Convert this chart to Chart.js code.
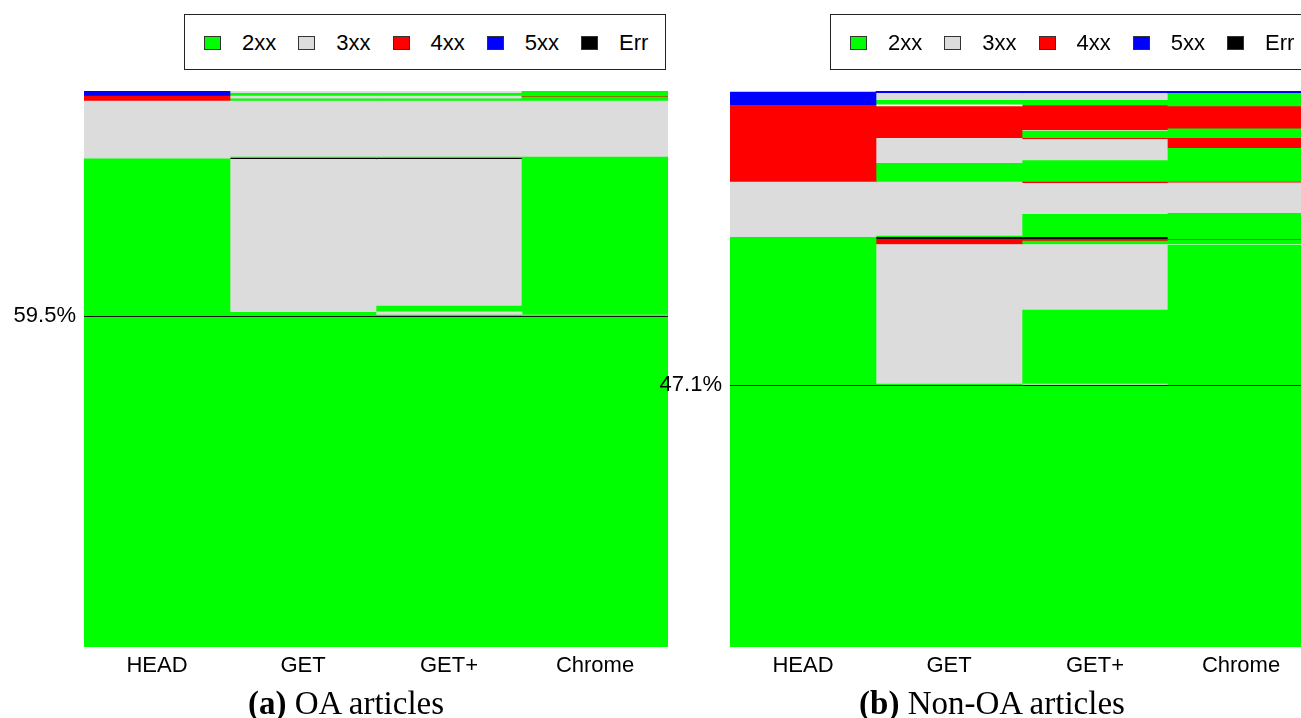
<!DOCTYPE html>
<html>
<head>
<meta charset="utf-8">
<script src="https://cdn.jsdelivr.net/npm/chart.js@4.4.1/dist/chart.umd.min.js"></script>
<style>
  html, body { margin:0; padding:0; background:#fff; }
  body { width:1301px; height:718px; overflow:hidden; position:relative; }
  canvas { position:absolute; top:0; }
  #cA { left:0; }
  #cB { left:646px; }
  .legend { position:absolute; top:14px; width:482px; height:56px; border:1px solid #222; box-sizing:border-box; background:#fff; }
  .item { position:absolute; top:21px; }
  .sq { position:absolute; left:0; top:0; width:17px; height:14px; border:1px solid #333; box-sizing:border-box; }
  .lbl { position:absolute; left:38px; top:-4px; font-family:"Liberation Sans", Arial, sans-serif; font-size:22px; line-height:22px; color:#000; white-space:nowrap; }
  .cap { position:absolute; top:687px; font-family:"Liberation Serif", serif; font-size:33px; line-height:33px; color:#000; white-space:nowrap; transform:translateX(-50%); }
</style>
</head>
<body>
<canvas id="cA" width="680" height="718"></canvas>
<canvas id="cB" width="680" height="718"></canvas>
<div class="legend" id="legA" style="left:184px"></div>
<div class="legend" id="legB" style="left:830px"></div>
<div class="cap" style="left:346px"><b>(a)</b> OA articles</div>
<div class="cap" style="left:992px"><b>(b)</b> Non-OA articles</div>
<script>
// ---- data ----
const categories = ['HEAD', 'GET', 'GET+', 'Chrome'];
const legendCodes = ['2xx', '3xx', '4xx', '5xx', 'Err'];

// (a) OA articles: segments bottom -> top, percent of requests
const oaHeadCodes    = ['2xx', '3xx', '4xx', '5xx'];
const oaHeadValues   = [87.8, 10.4, 0.9, 0.9];
const oaGetCodes     = ['2xx', '3xx', 'Err', '2xx', '3xx', '2xx', '3xx', '2xx', '3xx'];
const oaGetValues    = [60.2, 27.5, 0.2, 0.2, 10.1, 0.4, 0.5, 0.5, 0.4];
const oaGetPCodes    = ['2xx', '3xx', '2xx', '3xx', 'Err', '2xx', '3xx', '2xx', '3xx', '2xx', '3xx'];
const oaGetPValues   = [59.7, 0.6, 1.0, 26.4, 0.2, 0.2, 10.1, 0.4, 0.5, 0.5, 0.4];
const oaChromeCodes  = ['2xx', '3xx', '2xx', '3xx', '2xx', '4xx', '2xx'];
const oaChromeValues = [59.6, 0.1, 28.4, 10.1, 0.7, 0.1, 1.0];
const oaTick = 59.5;

// (b) Non-OA articles
const nonHeadCodes    = ['2xx', '3xx', '4xx', '5xx'];
const nonHeadValues   = [73.7, 9.9, 13.8, 2.4];
const nonGetCodes     = ['2xx', '3xx', '4xx', 'Err', '2xx', '3xx', '2xx', '3xx', '4xx', 'gap', '2xx', '3xx', '5xx'];
const nonGetValues    = [47.3, 25.1, 0.9, 0.4, 0.2, 9.7, 3.4, 4.5, 5.7, 0.3, 0.8, 1.3, 0.4];
const nonGetPCodes    = ['2xx', '3xx', '2xx', '3xx', '2xx', '4xx', 'Err', '2xx', '3xx', '4xx', '2xx', '3xx', '4xx', '2xx', 'gap', '4xx', '2xx', '3xx', '5xx'];
const nonGetPValues   = [47.1, 0.2, 13.3, 11.8, 0.6, 0.3, 0.4, 4.1, 5.6, 0.2, 3.9, 3.8, 0.2, 1.3, 0.1, 4.5, 0.9, 1.3, 0.4];
const nonChromeCodes  = ['2xx', 'gap', '2xx', '4xx', '2xx', '3xx', '4xx', '2xx', '4xx', '2xx', '4xx', '2xx', '5xx'];
const nonChromeValues = [72.3, 0.1, 0.8, 0.1, 4.7, 5.5, 0.1, 6.1, 1.8, 1.7, 4.0, 2.4, 0.4];
const nonOaTick = 47.1;

// ---- styles ----
const codeColors = { '2xx':'#00ff00', '3xx':'#dcdcdc', '4xx':'#ff0000', '5xx':'#0000ff', 'Err':'#000000', 'gap':'#ffffff' };
const FONT = 'Liberation Sans, Arial, sans-serif';

function buildLegend(id) {
  const el = document.getElementById(id);
  legendCodes.forEach((c, i) => {
    const it = document.createElement('div');
    it.className = 'item';
    it.style.left = (19 + i * 94.25) + 'px';
    it.innerHTML = '<div class="sq" style="background:' + codeColors[c] + '"></div><div class="lbl">' + c + '</div>';
    el.appendChild(it);
  });
}
buildLegend('legA');
buildLegend('legB');

function makePanel(canvasId, barCodes, barValues, tickValue) {
  const maxLen = Math.max(...barCodes.map(a => a.length));
  const datasets = [];
  for (let k = 0; k < maxLen; k++) {
    datasets.push({
      data: barValues.map(v => (k < v.length ? v[k] : null)),
      backgroundColor: barCodes.map(c => (k < c.length ? codeColors[c[k]] : 'rgba(0,0,0,0)')),
      borderWidth: 0,
      barPercentage: 1,
      categoryPercentage: 1
    });
  }
  new Chart(document.getElementById(canvasId), {
    type: 'bar',
    data: { labels: categories, datasets },
    options: {
      responsive: false,
      animation: false,
      devicePixelRatio: 1,
      layout: { padding: { top: 91, right: 12, left: 0, bottom: 0 } },
      plugins: { legend: { display: false }, tooltip: { enabled: false } },
      scales: {
        x: {
          stacked: true,
          grid: { display: false },
          border: { display: false },
          ticks: { color: '#000', font: { family: FONT, size: 22 }, padding: -2, maxRotation: 0 },
          afterFit(s) { s.height = 71; }
        },
        y: {
          stacked: true,
          min: 0, max: 100,
          afterBuildTicks(s) { s.ticks = [{ value: tickValue }]; },
          ticks: { color: '#000', font: { family: FONT, size: 22 }, padding: 8, callback: v => Number(v).toFixed(1) + '%' },
          grid: { color: '#111', lineWidth: 1, drawTicks: false, z: 1 },
          border: { display: false },
          afterFit(s) { s.width = 84; }
        }
      }
    }
  });
}

makePanel('cA', [oaHeadCodes, oaGetCodes, oaGetPCodes, oaChromeCodes],
               [oaHeadValues, oaGetValues, oaGetPValues, oaChromeValues], oaTick);
makePanel('cB', [nonHeadCodes, nonGetCodes, nonGetPCodes, nonChromeCodes],
               [nonHeadValues, nonGetValues, nonGetPValues, nonChromeValues], nonOaTick);
</script>
</body>
</html>
